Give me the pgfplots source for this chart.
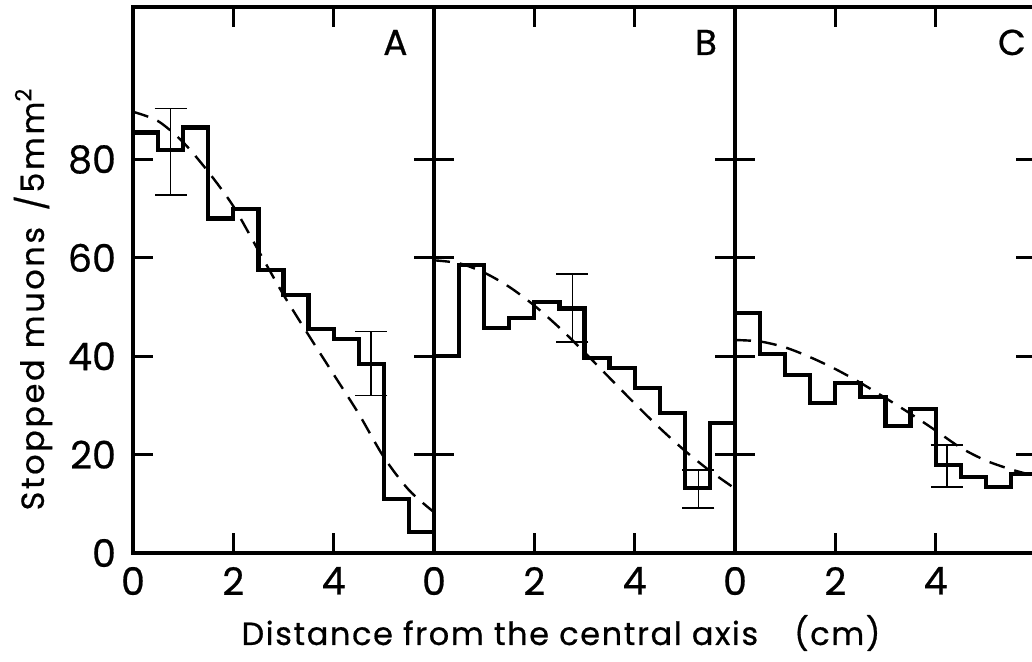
\documentclass[border=0pt]{standalone}
\usepackage{fontspec}
\setmainfont{Poppins}[FakeBold=0]
\newfontfamily\lab{Poppins}[FakeBold=0.6]
\usepackage{pgfplots}
\pgfplotsset{compat=1.18}
\begin{document}
\begin{tikzpicture}
\useasboundingbox (-66.5pt,-54pt) rectangle (449.5pt,276.5pt);
\pgfplotsset{
  panel/.style={
    scale only axis, width=150.5pt, height=273pt,
    xmin=0, xmax=6, ymin=0, ymax=111,
    axis line style={line width=2.4pt},
    xtick={0,2,4}, ytick={0,20,40,60,80},
    tick align=inside, tick pos=both,
    major tick length=10pt,
    every tick/.style={black, line width=1.5pt},
    tick label style={font=\lab\fontsize{19}{21}\selectfont},
    xticklabel style={yshift=-3.5pt},
    yticklabel style={xshift=-5pt},
    /pgf/number format/assume math mode=true,
  },
  hist/.style={const plot mark left, line width=2.1pt, black, mark=none},
  fit/.style={smooth, black, line width=1.2pt, dash pattern=on 8pt off 5pt},
  err/.style={black, draw=none, mark=none,
    error bars/.cd, y dir=both, y explicit,
    error bar style={draw=black, line width=0.8pt, solid},
    error mark options={draw=black, rotate=90, mark size=8pt, line width=0.8pt}},
}
% Panel A
\begin{axis}[panel, at={(0pt,0pt)}]
\addplot[hist] coordinates {(0,85.5) (0.5,82) (1.0,86.5) (1.5,68) (2.0,70) (2.5,57.5) (3.0,52.5) (3.5,45.5) (4.0,43.5) (4.5,38.5) (5.0,11) (5.5,4.3) (6,4.3)};
\addplot[fit] coordinates {(0,89.7) (0.5,87.8) (1,83.5) (1.5,77.5) (2,70.5) (2.5,61.5) (3,52.5) (3.5,44.3) (4,36.3) (4.5,28.3) (5,19.5) (5.5,12.8) (6,8.3)};
\addplot[err] coordinates {(0.75,81.6) +- (0,8.8) (4.75,38.5) +- (0,6.5)};
\node[font=\lab\fontsize{18}{20}\selectfont] at (axis cs:5.23,103.8) {A};
\end{axis}
% Panel B
\begin{axis}[panel, at={(150.5pt,0pt)}, yticklabels={}]
\addplot[hist] coordinates {(0,40) (0.5,58.5) (1.0,45.7) (1.5,47.8) (2.0,51) (2.5,49.7) (3.0,39.6) (3.5,37.6) (4.0,33.5) (4.5,28.5) (5.0,13.2) (5.5,26.4) (6,26.4)};
\addplot[fit] coordinates {(0,59.5) (0.5,58.9) (1,57) (1.5,54.1) (2,50.3) (2.5,45.8) (3,40.8) (3.5,35.6) (4,30.4) (4.5,25.4) (5,20.8) (5.5,16.7) (6,13.1)};
\addplot[err] coordinates {(2.76,49.8) +- (0,6.9) (5.27,13) +- (0,3.9)};
\node[font=\lab\fontsize{18}{20}\selectfont] at (axis cs:5.42,103.8) {B};
\end{axis}
% Panel C
\begin{axis}[panel, at={(301pt,0pt)}, yticklabels={}]
\addplot[hist] coordinates {(0,48.8) (0.5,40.4) (1.0,36.2) (1.5,30.5) (2.0,34.6) (2.5,31.7) (3.0,25.8) (3.5,29.2) (4.0,17.9) (4.5,15.5) (5.0,13.4) (5.5,16) (6,16)};
\addplot[fit] coordinates {(0,43.3) (0.5,43) (1,41.8) (1.5,39.8) (2,37.4) (2.5,34.6) (3,31.5) (3.5,28.3) (4,24.9) (4.5,21.4) (5,18.8) (5.5,17) (6,15.6)};
\addplot[err] coordinates {(4.22,17.7) +- (0,4.3)};
\node[font=\lab\fontsize{18}{20}\selectfont] at (axis cs:5.52,103.8) {C};
\end{axis}
\node[font=\lab\fontsize{16}{18}\selectfont\addfontfeatures{LetterSpace=5}] at (214pt,-40pt) {Distance from the central axis\hspace{18pt}(cm)};
\node[rotate=90, font=\lab\fontsize{16}{18}\selectfont\addfontfeatures{LetterSpace=8}] at (-50pt,127pt) {Stopped muons \,/5mm\textsuperscript{2}};
\end{tikzpicture}
\end{document}
